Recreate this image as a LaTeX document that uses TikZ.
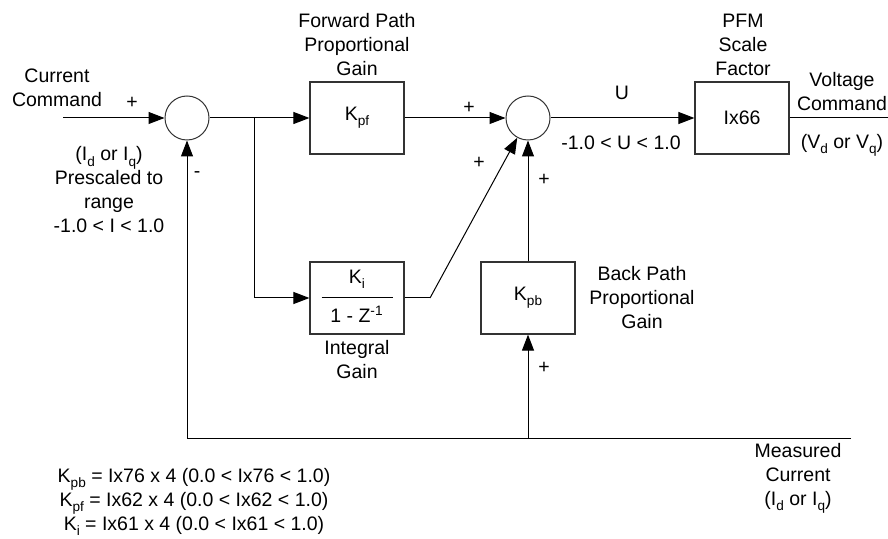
\documentclass[tikz,border=0pt]{standalone}
\usepackage{fontspec}
\setmainfont{Liberation Sans}
\usetikzlibrary{arrows.meta,positioning}
\newcommand{\lblfont}{\fontsize{9.75}{12}\selectfont}
\newcommand{\lowsub}[1]{\raisebox{-0.5ex}{\fontsize{6.8}{7}\selectfont #1}}
\tikzset{
  gainbox/.style={draw=black!80,line width=0.6pt,
                  minimum width=47pt,minimum height=36pt,
                  inner sep=0pt,align=center,font=\lblfont},
  sumnode/.style={draw=black!80,circle,line width=0.5pt,
                  minimum size=22pt,inner sep=0pt},
  sig/.style={-{Triangle[length=8pt,width=6pt]},line width=0.5pt},
  wire/.style={line width=0.5pt},
  lbl/.style={align=center,inner sep=0pt,font=\lblfont}
}

\begin{document}
\begin{tikzpicture}[x=0.5pt,y=-0.5pt]
  \useasboundingbox (0,0) rectangle (888,539);
  % blocks
  \node[sumnode] (sumin) at (187,118) {};
  \node[gainbox] (kpf) at (357,118) {K\lowsub{pf}};
  \node[sumnode] (sumout) at (528,118) {};
  \node[gainbox] (ix) at (742,118) {Ix66};
  \node[gainbox] (ki) at (357,298)
    {\begin{tabular}{@{}c@{}}\makebox[35.5pt]{K\lowsub{i}}\\[3.5pt]\hline
     \rule{0pt}{12pt}1 - Z\textsuperscript{-1}\end{tabular}};
  \node[gainbox] (kpb) at (528,298) {K\lowsub{pb}};
  % wire ends and corners
  \coordinate (cmdin) at (63,118);
  \coordinate (br) at (254,118);
  \coordinate (bend) at (430,298);
  \coordinate (vout) at (888,118);
  \coordinate (fbend) at (851,438);
  \coordinate (fbleft) at (187,438);
  \coordinate (fbmid) at (528,438);
  % forward path
  \draw[sig] (cmdin) -- (sumin);
  \draw[sig] (sumin) -- (kpf);
  \draw[sig] (br) |- (ki.west);
  \draw[sig] (kpf) -- (sumout);
  \draw[wire] (ki.east) -- (bend);
  \draw[sig] (bend) -- (sumout);
  \draw[sig] (kpb) -- (sumout);
  \draw[sig] (sumout) -- (ix);
  \draw[wire] (ix) -- (vout);
  % feedback
  \draw[wire] (fbend) -- (fbleft);
  \draw[sig] (fbleft) -- (sumin);
  \draw[sig] (fbmid) -- (kpb);
  % labels
  \node[lbl] (cmdlbl) at (57,88) {Current\\Command};
  \node[lbl] (plusin) at (132,103) {+};
  \node[lbl] (rangelbl) at (109,190)
    {(I\lowsub{d} or I\lowsub{q})\\Prescaled to\\range\\-1.0 < I < 1.0};
  \node[lbl] (minusfb) at (197,175) {-};
  \node[lbl] (fwdlbl) at (357,45) {Forward Path\\Proportional\\Gain};
  \node[lbl] (pluskpf) at (469,108) {+};
  \node[lbl] (pluski) at (479,163) {+};
  \node[lbl] (pluskpb) at (544,180) {+};
  \node[lbl] (ulbl) at (622,93) {U};
  \node[lbl] (urange) at (621,143) {-1.0 < U < 1.0};
  \node[lbl] (pfmlbl) at (743,45) {PFM\\Scale\\Factor};
  \node[lbl] (voltlbl) at (842,92) {Voltage\\Command};
  \node[lbl] (vdq) at (842,145) {(V\lowsub{d} or V\lowsub{q})};
  \node[lbl] (intlbl) at (357,360) {Integral\\Gain};
  \node[lbl] (backlbl) at (642,298) {Back Path\\Proportional\\Gain};
  \node[lbl] (plusfb) at (544,368) {+};
  \node[lbl] (measlbl) at (798,478) {Measured\\Current\\(I\lowsub{d} or I\lowsub{q})};
  \node[lbl] (gainlist) at (194,502)
    {K\lowsub{pb} = Ix76 x 4 (0.0 < Ix76 < 1.0)\\
     K\lowsub{pf} = Ix62 x 4 (0.0 < Ix62 < 1.0)\\
     K\lowsub{i} = Ix61 x 4 (0.0 < Ix61 < 1.0)};
\end{tikzpicture}
\end{document}
